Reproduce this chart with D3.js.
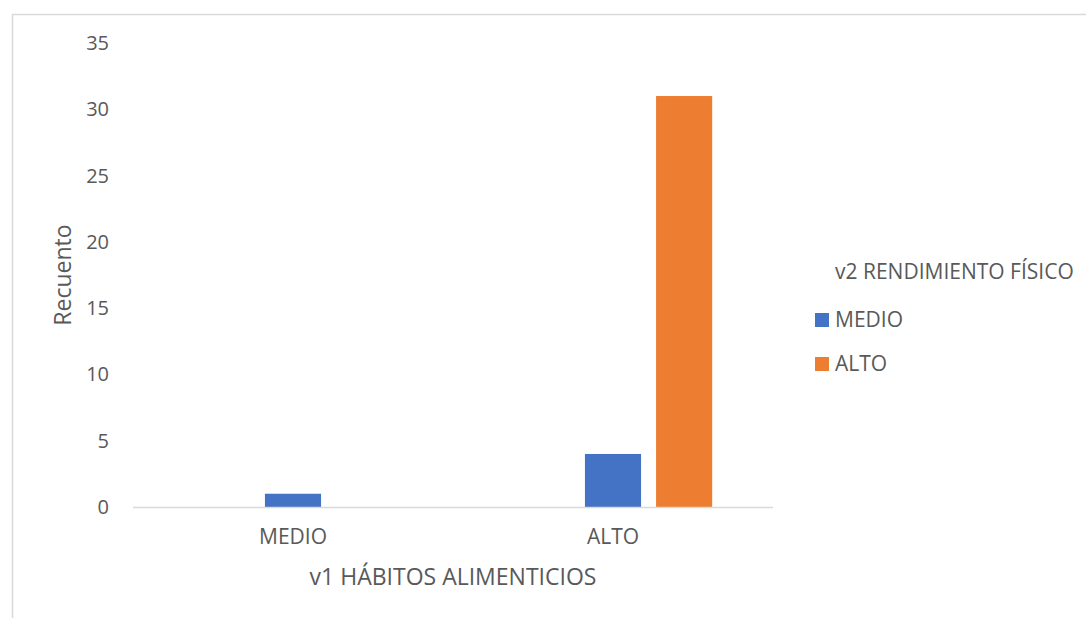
<!DOCTYPE html>
<html>
<head>
<meta charset="utf-8">
<script src="https://cdn.jsdelivr.net/npm/d3@7"></script>
<style>
  body { margin: 0; background: #fff; }
  text { font-family: "Open Sans", sans-serif; fill: #595959; }
</style>
</head>
<body>
<div id="vis"></div>
<script>
const WIDTH = 1086;
const HEIGHT = 618;

// datos del grafico
const categorias = ["MEDIO", "ALTO"];
const series = ["BAJO", "MEDIO", "ALTO"]; // BAJO sin casos, no sale en la leyenda
const valoresBajo = [0, 0];
const valoresMedio = [1, 4];
const valoresAlto = [0, 31];
const ticksY = [0, 5, 10, 15, 20, 25, 30, 35];
const serieLeyenda = ["MEDIO", "ALTO"];

const colores = { "BAJO": "#A5A5A5", "MEDIO": "#4472C4", "ALTO": "#ED7D31" };

const datos = categorias.map((c, i) => ({
  categoria: c,
  BAJO: valoresBajo[i],
  MEDIO: valoresMedio[i],
  ALTO: valoresAlto[i],
}));

const SVG = d3.select("#vis").append("svg")
  .attr("width", WIDTH)
  .attr("height", HEIGHT);

// borde del area del grafico
SVG.append("rect")
  .attr("x", 12.5).attr("y", 14.5)
  .attr("width", WIDTH).attr("height", HEIGHT)
  .attr("fill", "none")
  .attr("stroke", "#d9d9d9")
  .attr("stroke-width", 1.5);

const escalaX = d3.scaleBand()
  .domain(categorias)
  .range([133, 773]);

const bw = escalaX.bandwidth();
const escalaSerie = d3.scaleBand()
  .domain(series)
  .range([bw * 0.19, bw * 0.81])
  .paddingInner(0.211);

const escalaY = d3.scaleLinear()
  .domain([0, 35])
  .range([507, 43]);

// etiquetas eje Y
SVG.append("g")
  .selectAll("text")
  .data(ticksY)
  .join("text")
  .attr("x", 109)
  .attr("y", d => escalaY(d))
  .attr("dy", "0.35em")
  .attr("text-anchor", "end")
  .style("font-size", "20px")
  .text(d => d);

// barras
const grupos = SVG.append("g")
  .selectAll("g")
  .data(datos)
  .join("g")
  .attr("transform", d => `translate(${escalaX(d.categoria)},0)`);

grupos.selectAll("rect")
  .data(d => series.map(s => ({ serie: s, valor: d[s] })))
  .join("rect")
  .attr("x", d => escalaSerie(d.serie))
  .attr("width", escalaSerie.bandwidth())
  .attr("y", d => escalaY(d.valor))
  .attr("height", d => escalaY(0) - escalaY(d.valor))
  .attr("fill", d => colores[d.serie]);

// linea base
SVG.append("line")
  .attr("x1", 133).attr("x2", 773)
  .attr("y1", escalaY(0) + 0.5).attr("y2", escalaY(0) + 0.5)
  .attr("stroke", "#d9d9d9")
  .attr("stroke-width", 1.5);

// etiquetas eje X
SVG.append("g")
  .selectAll("text")
  .data(categorias)
  .join("text")
  .attr("x", d => escalaX(d) + bw / 2)
  .attr("y", 537)
  .attr("dy", "0.35em")
  .attr("text-anchor", "middle")
  .style("font-size", "21px")
  .text(d => d);

// titulos de ejes
SVG.append("text")
  .attr("x", 453)
  .attr("y", 577)
  .attr("dy", "0.35em")
  .attr("text-anchor", "middle")
  .style("font-size", "23px")
  .text("v1 HÁBITOS ALIMENTICIOS");

SVG.append("text")
  .attr("transform", "translate(63,275) rotate(-90)")
  .attr("dy", "0.35em")
  .attr("text-anchor", "middle")
  .style("font-size", "23px")
  .text("Recuento");

// leyenda
SVG.append("text")
  .attr("x", 835)
  .attr("y", 272)
  .attr("dy", "0.35em")
  .style("font-size", "21px")
  .text("v2 RENDIMIENTO FÍSICO");

const leyenda = SVG.append("g")
  .selectAll("g")
  .data(serieLeyenda)
  .join("g")
  .attr("transform", (d, i) => `translate(815,${320 + i * 44})`);

leyenda.append("rect")
  .attr("x", 0).attr("y", -7)
  .attr("width", 14).attr("height", 14)
  .attr("fill", d => colores[d]);

leyenda.append("text")
  .attr("x", 20)
  .attr("y", 0)
  .attr("dy", "0.35em")
  .style("font-size", "21px")
  .text(d => d);
</script>
</body>
</html>
